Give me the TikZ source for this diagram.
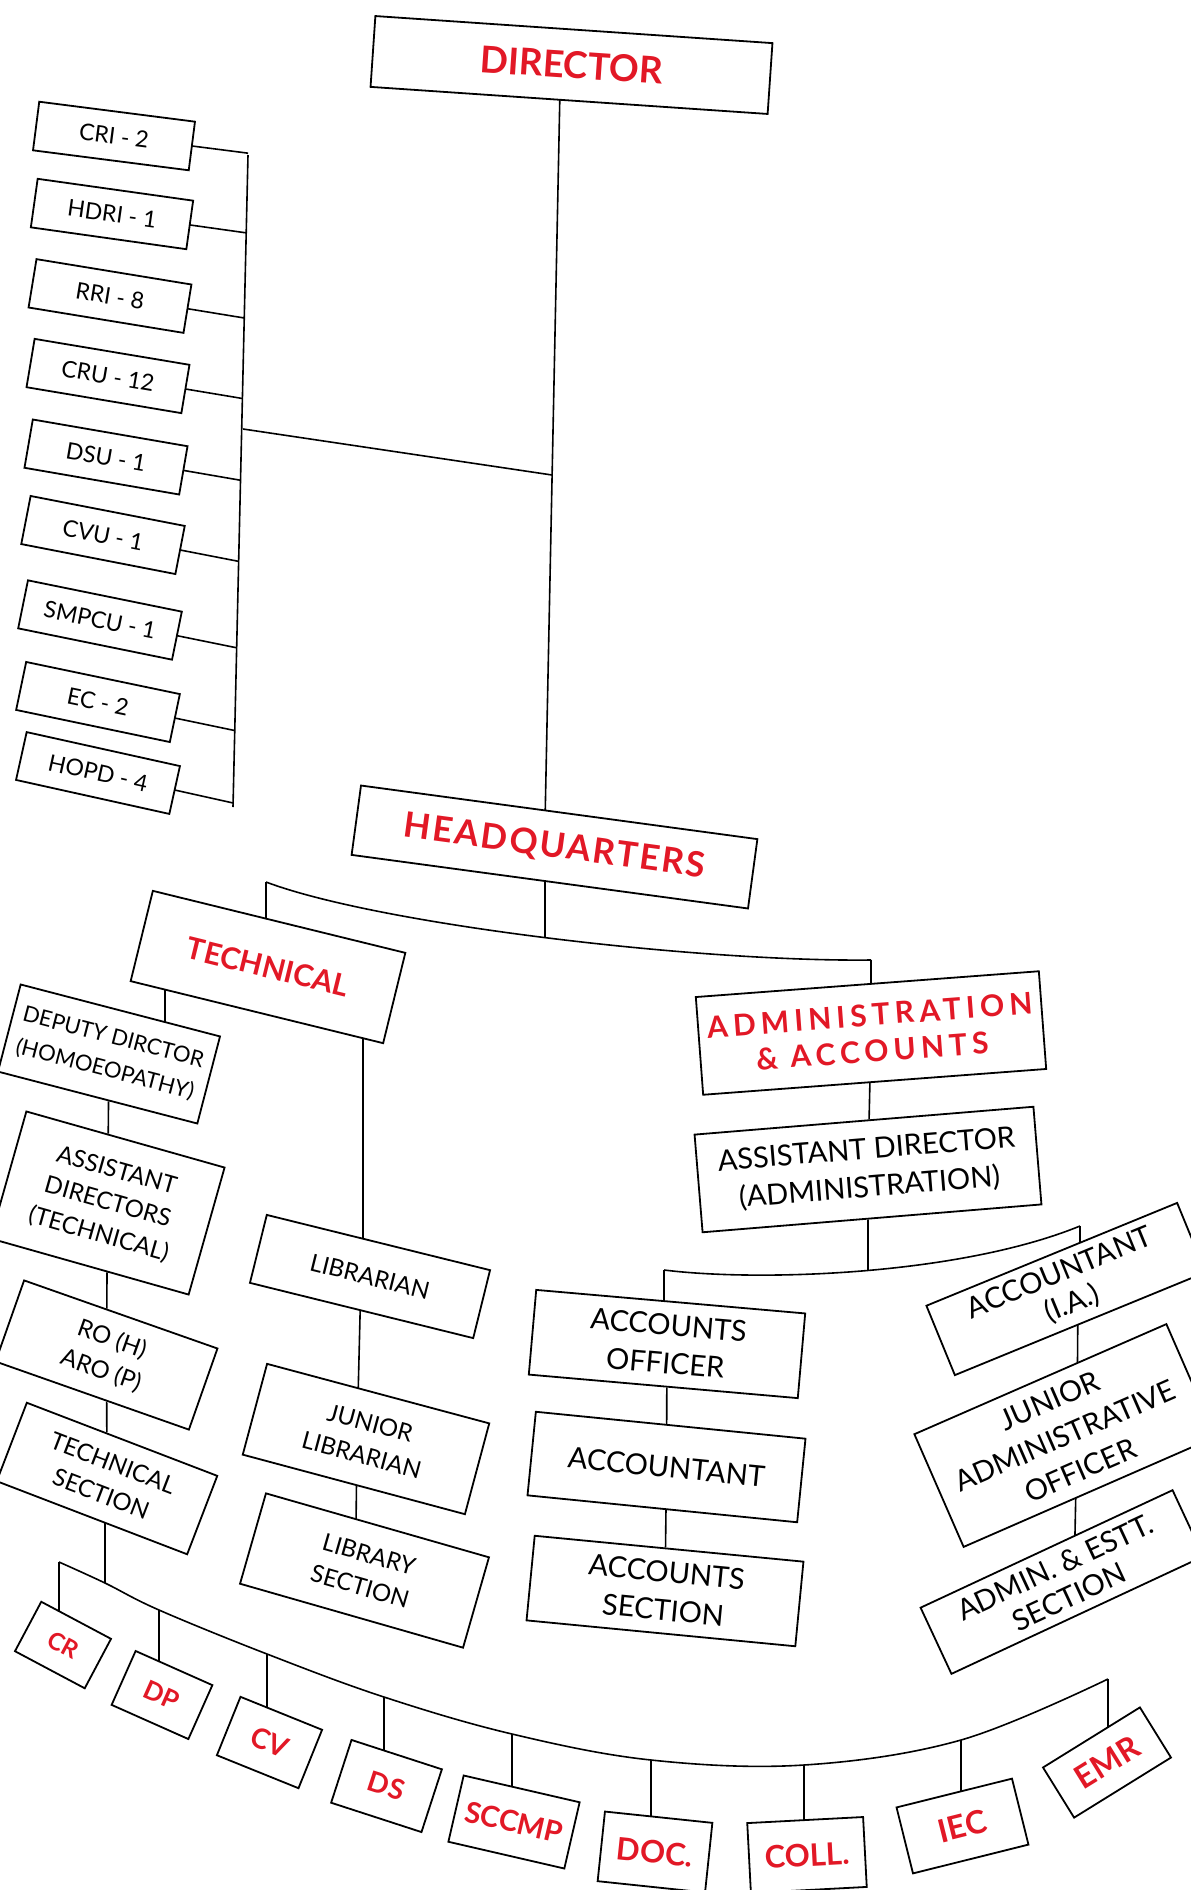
\documentclass[tikz,border=0pt]{standalone}
\usepackage{fontspec}
\setmainfont{Lato}
\usetikzlibrary{backgrounds}
\definecolor{orgred}{RGB}{226,24,38}
\tikzset{
  boxsize/.style 2 args={minimum width=#1pt, minimum height=#2pt},
  unitbox/.style={draw, fill=white, line width=1.8pt, inner sep=0pt, minimum width=157pt, minimum height=49pt, font=\fontsize{23}{26}\selectfont},
  postbox/.style={draw, fill=white, line width=1.8pt, inner sep=0pt, align=center, font=\fontsize{24}{33}\selectfont},
  wardbox/.style={postbox, font=\fontsize{29}{38}\selectfont},
  headbox/.style={draw, fill=white, line width=1.8pt, inner sep=0pt, align=center, text=orgred, font=\bfseries\fontsize{30}{34}\selectfont},
  deptbox/.style={headbox, font=\bfseries\fontsize{#1}{#1}\selectfont},
  link/.style={line width=1.6pt}
}
\begin{document}
\begin{tikzpicture}[x=1pt, y=-1pt]
\useasboundingbox (0,0) rectangle (1191,1890);

\node[headbox, boxsize={398}{71}, rotate=-3.9, font=\bfseries\fontsize{37}{40}\selectfont] (dir) at (571.5,65) {DIRECTOR};
\node[headbox, boxsize={400}{70}, rotate=-7.7, font=\bfseries\fontsize{35}{38}\selectfont\addfontfeature{LetterSpace=6}] (hq) at (554.5,847) {HEADQUARTERS};

\node[unitbox, rotate=-7.3] (cri) at (114,136) {CRI - 2};
\node[unitbox, rotate=-8] (hdri) at (112,214) {HDRI - 1};
\node[unitbox, rotate=-9.3] (rri) at (110,296) {RRI - 8};
\node[unitbox, rotate=-9.5] (cru) at (108,376) {CRU - 12};
\node[unitbox, rotate=-9.8] (dsu) at (106,457) {DSU - 1};
\node[unitbox, rotate=-11] (cvu) at (103,535) {CVU - 1};
\node[unitbox, rotate=-11.5] (smpcu) at (100,620) {SMPCU - 1};
\node[unitbox, rotate=-11.8] (ec) at (98,702) {EC - 2};
\node[unitbox, rotate=-12.5] (hopd) at (98,773) {HOPD - 4};

\node[headbox, boxsize={260}{93}, rotate=-13.8] (tech) at (268,967) {TECHNICAL};
\node[postbox, boxsize={206}{90}, rotate=-14.6, font=\fontsize{22}{33}\selectfont] (dep) at (109,1054) {DEPUTY DIRCTOR\\(HOMOEOPATHY)};
\node[postbox, boxsize={206}{132}, rotate=-15.8] (asst) at (107.5,1203) {ASSISTANT\\DIRECTORS\\(TECHNICAL)};
\node[postbox, boxsize={205}{86}, rotate=-19.4] (ro) at (106.5,1355) {RO (H)\\ARO (P)};
\node[postbox, boxsize={204}{84}, rotate=-21] (tsec) at (107,1478.5) {TECHNICAL\\SECTION};
\node[postbox, boxsize={230}{70}, rotate=-13.9] (lib) at (370,1276.5) {LIBRARIAN};
\node[postbox, boxsize={230}{94}, rotate=-15] (jlib) at (366,1439) {JUNIOR\\LIBRARIAN};
\node[postbox, boxsize={232}{94}, rotate=-16] (lsec) at (364.5,1570.5) {LIBRARY\\SECTION};

\node[headbox, boxsize={344}{98}, rotate=4.3, font=\bfseries\fontsize{30}{36}\selectfont\addfontfeature{LetterSpace=17}] (adm) at (871,1033) {ADMINISTRATION\\\& ACCOUNTS};
\node[wardbox, boxsize={340}{98}, rotate=4.7] (asd) at (868,1169.5) {ASSISTANT DIRECTOR\\(ADMINISTRATION)};
\node[wardbox, boxsize={270}{85}, rotate=-5] (ao) at (667,1344) {ACCOUNTS\\OFFICER};
\node[wardbox, boxsize={271}{84}, rotate=-5.7] (acc) at (666.5,1467) {ACCOUNTANT};
\node[wardbox, boxsize={270}{85}, rotate=-5.5] (asec) at (665,1591) {ACCOUNTS\\SECTION};
\node[wardbox, boxsize={271}{75}, rotate=22.3, font=\fontsize{29}{33}\selectfont] (acia) at (1066,1289) {ACCOUNTANT\\(I.A.)};
\node[wardbox, boxsize={275}{123}, rotate=23.6] (jao) at (1065,1435.5) {JUNIOR\\ADMINISTRATIVE\\OFFICER};
\node[wardbox, boxsize={278}{73}, rotate=25, font=\fontsize{29}{33}\selectfont] (aes) at (1062,1582) {ADMIN. \& ESTT.\\SECTION};

\node[deptbox=24, boxsize={79}{56}, rotate=-28] (cr) at (63,1645) {CR};
\node[deptbox=26, boxsize={84}{59}, rotate=-24] (dp) at (162,1695) {DP};
\node[deptbox=28, boxsize={88}{63}, rotate=-22] (cv) at (269.5,1742.5) {CV};
\node[deptbox=28, boxsize={95}{66}, rotate=-18] (ds) at (386.5,1786) {DS};
\node[deptbox=29, boxsize={119}{68}, rotate=-13] (sccmp) at (514,1822) {SCCMP};
\node[deptbox=31, boxsize={108}{70}, rotate=-6] (doc) at (655,1852) {DOC.};
\node[deptbox=31, boxsize={116}{70}, rotate=3] (coll) at (807,1855) {COLL.};
\node[deptbox=32, boxsize={119}{68}, rotate=14] (iec) at (962.5,1826) {IEC};
\node[deptbox=32, boxsize={114}{59}, rotate=31.8] (emr) at (1107,1762.5) {EMR};

\coordinate (bt) at (248,155);
\coordinate (bb) at (233,807);
\coordinate (bj) at (243,429);
\coordinate (tj) at (552,475);
\coordinate (tb) at (266,882);
\coordinate (hb) at (545,938);
\coordinate (ab) at (871,960);
\coordinate (lb) at (664,1270);
\coordinate (rb) at (1080,1226);
\coordinate (kcr) at (59,1562);
\coordinate (kts) at (105,1583);
\coordinate (kdp) at (159,1610);
\coordinate (kcv) at (267,1654);
\coordinate (kds) at (384,1697);
\coordinate (ksc) at (512,1734);
\coordinate (kdoc) at (651,1760);
\coordinate (kcoll) at (804,1765);
\coordinate (kiec) at (961,1740);
\coordinate (kemr) at (1108,1679);

\begin{scope}[on background layer]
\draw[link] ([xshift=-11pt]dir.center) -- ([xshift=-10pt]hq.center);
\draw[link] (bt) -- (bb);
\draw[link] (bj) -- (tj);
\foreach \n in {cri,hdri,rri,cru,dsu,cvu,smpcu,ec,hopd}
  \draw[link] (\n.center) -- (intersection of \n.center--\n.east and bt--bb);

\draw[link] (tb) .. controls (380,925) and (700,962) .. (ab);
\draw[link] (hb) -- (hb |- hq);
\draw[link] (tb) -- (tb |- tech);
\draw[link] (ab) -- (ab |- adm);
\draw[link] ([xshift=-103pt]tech.center) -- ([xshift=-103pt]tech.center |- dep);
\draw[link] ([xshift=-7pt]lib.center) -- ([xshift=-7pt]lib.center |- tech);
\draw[link] (dep) -- (asst);
\draw[link] (asst) -- (ro);
\draw[link] (ro) -- (tsec);
\draw[link] ([xshift=-9pt]lib.center) -- ([xshift=-9pt]jlib.center);
\draw[link] ([xshift=-9pt]jlib.center) -- ([xshift=-9pt]lsec.center);

\draw[link] (adm) -- (asd);
\draw[link] (lb) .. controls (760,1282) and (960,1275) .. (rb);
\draw[link] (asd) -- (asd |- lb);
\draw[link] (lb) -- (lb |- ao);
\draw[link] (rb) -- (rb |- acia);
\draw[link] (ao) -- (acc);
\draw[link] (acc) -- (asec);
\draw[link] ([xshift=12pt]acia.center) -- ([xshift=12pt]jao.center);
\draw[link] ([xshift=12pt]jao.center) -- ([xshift=12pt]aes.center);

\draw[link] plot[smooth, tension=0.6] coordinates {(kcr) (kts) (kdp) (kcv) (kds) (ksc) (kdoc) (kcoll) (kiec) (kemr)};
\draw[link] (kts) -- (kts |- tsec);
\foreach \k/\b in {kcr/cr, kdp/dp, kcv/cv, kds/ds, ksc/sccmp, kdoc/doc, kcoll/coll, kiec/iec, kemr/emr}
  \draw[link] (\k) -- (\k |- \b);
\end{scope}
\end{tikzpicture}
\end{document}
